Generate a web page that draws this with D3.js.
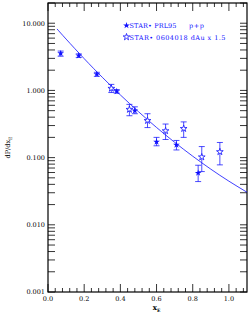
<!DOCTYPE html>
<html>
<head>
<meta charset="utf-8">
<script src="https://cdn.jsdelivr.net/npm/d3@7"></script>
<style>
body { margin: 0; background: #fff; }
text { font-family: "DejaVu Serif", serif; }
</style>
</head>
<body>
<div id="chart"></div>
<script>
// p+p (STAR PRL95), filled stars
var ppX = [0.07, 0.17, 0.27, 0.38, 0.48, 0.60, 0.71, 0.83];
var ppY = [3.55, 3.3, 1.74, 0.97, 0.50, 0.172, 0.155, 0.059];
var ppLo = [3.23, 3.1, 1.62, 0.91, 0.45, 0.15, 0.13, 0.044];
var ppHi = [3.85, 3.5, 1.86, 1.03, 0.57, 0.20, 0.18, 0.077];

// d+Au x 1.5 (STAR 0604018), open stars
var dauX = [0.35, 0.45, 0.55, 0.65, 0.75, 0.85, 0.95];
var dauY = [1.07, 0.52, 0.355, 0.25, 0.27, 0.102, 0.122];
var dauLo = [0.93, 0.42, 0.28, 0.186, 0.20, 0.062, 0.078];
var dauHi = [1.23, 0.62, 0.45, 0.316, 0.34, 0.146, 0.168];

// fit curve
var fitX = [0.05, 0.1, 0.2, 0.3, 0.4, 0.5, 0.6, 0.7, 0.8, 0.9, 1.0, 1.1];
var fitY = [8.22, 5.81, 2.97, 1.57, 0.857, 0.483, 0.281, 0.169, 0.105, 0.0673, 0.0446, 0.0305];

var xTicks = [0.0, 0.2, 0.4, 0.6, 0.8, 1.0];
var yTicks = [0.001, 0.01, 0.1, 1, 10];

var width = 249, height = 314;
var margin = {top: 3, right: 2, bottom: 22, left: 48};
var blue = "#1010ff";

var svg = d3.select("#chart").append("svg")
    .attr("width", width)
    .attr("height", height);

var x = d3.scaleLinear().domain([0, 1.1]).range([margin.left, width - margin.right]);
var y = d3.scaleLog().domain([0.001, 20]).range([height - margin.bottom, margin.top]);

// minor ticks
var xMinor = d3.range(0, 1.1001, 0.04);
var yMinor = [];
[0.001, 0.01, 0.1, 1, 10].forEach(function(d) {
    for (var k = 1; k < 10; k++) { if (d * k <= 20) yMinor.push(d * k); }
});

var g = svg.append("g");

// bottom / top ticks
g.selectAll(".xb").data(xMinor).enter().append("line")
    .attr("x1", function(d) { return x(d); })
    .attr("x2", function(d) { return x(d); })
    .attr("y1", y(0.001))
    .attr("y2", function(d) { return y(0.001) - (Math.abs(d / 0.2 - Math.round(d / 0.2)) < 1e-6 ? 8 : 4); })
    .attr("stroke", "#000").attr("stroke-width", 0.8);
g.selectAll(".xt").data(xMinor).enter().append("line")
    .attr("x1", function(d) { return x(d); })
    .attr("x2", function(d) { return x(d); })
    .attr("y1", y(20))
    .attr("y2", function(d) { return y(20) + (Math.abs(d / 0.2 - Math.round(d / 0.2)) < 1e-6 ? 8 : 4); })
    .attr("stroke", "#000").attr("stroke-width", 0.8);

// left / right ticks
g.selectAll(".yl").data(yMinor).enter().append("line")
    .attr("x1", x(0)).attr("x2", x(0) + 7)
    .attr("y1", function(d) { return y(d); })
    .attr("y2", function(d) { return y(d); })
    .attr("stroke", "#000").attr("stroke-width", 0.8);
g.selectAll(".yr").data(yMinor).enter().append("line")
    .attr("x1", x(1.1)).attr("x2", x(1.1) - 7)
    .attr("y1", function(d) { return y(d); })
    .attr("y2", function(d) { return y(d); })
    .attr("stroke", "#000").attr("stroke-width", 0.8);

// frame
svg.append("rect")
    .attr("x", x(0)).attr("y", y(20))
    .attr("width", x(1.1) - x(0)).attr("height", y(0.001) - y(20))
    .attr("fill", "none").attr("stroke", "#000").attr("stroke-width", 1.2);

// tick labels
svg.selectAll(".xl").data(xTicks).enter().append("text")
    .attr("x", function(d) { return x(d); })
    .attr("y", 301)
    .attr("text-anchor", "middle")
    .attr("font-size", 6.5)
    .text(function(d) { return d.toFixed(1); });
svg.selectAll(".yll").data(yTicks).enter().append("text")
    .attr("x", 45)
    .attr("y", function(d) { return y(d) + 2.3; })
    .attr("text-anchor", "end")
    .attr("font-size", 6.5)
    .text(function(d) { return d.toFixed(3); });

// axis titles
var xt = svg.append("text")
    .attr("x", x(0.6)).attr("y", 310)
    .attr("text-anchor", "middle").attr("font-size", 7).attr("font-weight", "bold");
xt.append("tspan").text("x");
xt.append("tspan").attr("font-size", 4.5).attr("dy", 1.5).text("E");

var yt = svg.append("text")
    .attr("transform", "translate(10," + ((y(0.001) + y(20)) / 2) + ") rotate(-90)")
    .attr("text-anchor", "middle").attr("font-size", 6.5);
yt.append("tspan").text("dP/dx");
yt.append("tspan").attr("font-size", 4.5).attr("dy", 1.5).text("E");

// fit line
var line = d3.line()
    .x(function(d, i) { return x(fitX[i]); })
    .y(function(d) { return y(d); })
    .curve(d3.curveNatural);
svg.append("path").datum(fitY)
    .attr("d", line)
    .attr("fill", "none")
    .attr("stroke", blue)
    .attr("stroke-width", 0.8);

function errBars(xs, lo, hi) {
    var eg = svg.append("g").attr("stroke", blue).attr("stroke-width", 1).attr("stroke-opacity", 0.75);
    xs.forEach(function(xv, i) {
        eg.append("line").attr("x1", x(xv)).attr("x2", x(xv)).attr("y1", y(lo[i])).attr("y2", y(hi[i]));
        eg.append("line").attr("x1", x(xv) - 3).attr("x2", x(xv) + 3).attr("y1", y(lo[i])).attr("y2", y(lo[i]));
        eg.append("line").attr("x1", x(xv) - 3).attr("x2", x(xv) + 3).attr("y1", y(hi[i])).attr("y2", y(hi[i]));
    });
}
errBars(ppX, ppLo, ppHi);
errBars(dauX, dauLo, dauHi);

var star = d3.symbol().type(d3.symbolStar).size(14);

svg.selectAll(".pp").data(ppY).enter().append("path")
    .attr("d", star)
    .attr("transform", function(d, i) { return "translate(" + x(ppX[i]) + "," + y(d) + ")"; })
    .attr("fill", blue);
svg.selectAll(".dau").data(dauY).enter().append("path")
    .attr("d", star)
    .attr("transform", function(d, i) { return "translate(" + x(dauX[i]) + "," + y(d) + ")"; })
    .attr("fill", "#fff")
    .attr("stroke", blue)
    .attr("stroke-width", 0.8);

// legend
var lg = svg.append("g").attr("fill", blue).attr("font-size", 6.5);
lg.append("path").attr("d", star).attr("transform", "translate(126.5,25.5)").attr("fill", blue);
lg.append("text").attr("x", 129.5).attr("y", 28).attr("textLength", 47)
    .attr("lengthAdjust", "spacing").text("STAR• PRL95");
lg.append("text").attr("x", 189).attr("y", 28).attr("textLength", 15)
    .attr("lengthAdjust", "spacing").text("p+p");
lg.append("path").attr("d", star).attr("transform", "translate(126.5,37)")
    .attr("fill", "#fff").attr("stroke", blue).attr("stroke-width", 0.8);
lg.append("text").attr("x", 129.5).attr("y", 39.5).attr("textLength", 96)
    .attr("lengthAdjust", "spacing").text("STAR• 0604018 dAu x 1.5");
</script>
</body>
</html>
